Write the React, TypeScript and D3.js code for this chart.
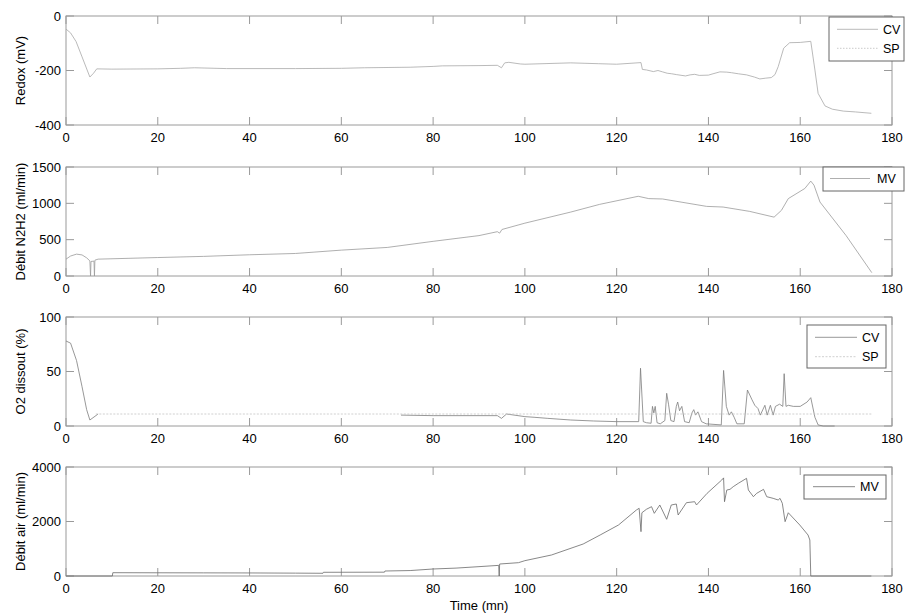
import React from "react";
import * as d3 from "d3";

// ---------- data ----------
const xTicks = [0, 20, 40, 60, 80, 100, 120, 140, 160, 180];

const redoxCV: [number, number][] = [
  [0, -48], [1, -62], [2.2, -94], [3.5, -150], [5.2, -224], [6, -210], [6.7, -194], [10, -195],
  [20, -194], [25, -192], [28, -190], [35, -193], [50, -193], [60, -192], [65, -190], [75, -188],
  [80, -185], [82, -183], [90, -182], [94, -181], [94.9, -190], [95.6, -172], [96.5, -170],
  [99, -176], [100, -177], [110, -172], [116, -175], [120, -177], [125.3, -171], [125.6, -196],
  [126.5, -198], [128, -204], [129, -200], [130, -205], [131, -210], [132, -212], [133, -215],
  [135, -220], [136, -216], [137, -214], [138, -218], [140, -217], [141, -212], [142.5, -205],
  [144, -206], [145, -208], [146.5, -212], [148.3, -216], [150, -224], [151.2, -231],
  [152.5, -228], [153.7, -226], [154.5, -215], [155.2, -186], [156.4, -118], [157.7, -98],
  [160, -97], [162.3, -93], [163.2, -198], [163.9, -284], [165.4, -330], [167, -342],
  [169.4, -349], [172, -352], [175.5, -357],
];
const redoxSP: [number, number][] = [];

const n2h2MV: [number, number][] = [
  [0, 232], [1, 275], [2.3, 301], [3.5, 290], [4.5, 250], [5.2, 208], [5.35, 0], [5.45, 200],
  [6.1, 205], [6.2, 0], [6.3, 218], [7, 232], [20, 254], [30, 270], [40, 292], [50, 310],
  [60, 356], [70, 393], [80, 477], [90, 556], [94, 610], [94.5, 590], [95, 640], [100, 727],
  [110, 880], [116.3, 986], [124.7, 1097], [127, 1065], [130, 1060], [139.6, 958], [143.2, 949],
  [149, 889], [154.3, 810], [155.9, 903], [157.4, 1065], [161, 1204], [162.3, 1306], [163, 1250],
  [164.3, 1018], [170, 556], [175.6, 46],
];

const o2CV: [number, number][] = [
  [0, 78], [1, 76], [2.3, 60], [3.5, 36], [4.5, 15], [5.2, 5.5], [7, 11], [7.1, NaN],
  [73, 10], [80, 9.5], [90, 9.5], [94, 9.5], [94.9, 7], [96, 11], [100, 8.6], [102, 8],
  [105, 7], [110, 5.5], [115, 4.6], [120, 4], [124.8, 4], [125.2, 53], [125.8, 4], [126.5, 3],
  [127.5, 2.5], [127.8, 18], [128.1, 12], [128.4, 18], [128.8, 3], [129.5, 2], [130.5, 5],
  [130.9, 30], [131.3, 20], [131.8, 5], [132.5, 4], [133.0, 18], [133.3, 22], [133.7, 14],
  [134.2, 18], [134.8, 4], [135.8, 3], [136.4, 12], [136.8, 15], [137.2, 10], [137.7, 13],
  [138.5, 4], [139.5, 2], [142.8, 1], [143.3, 51], [143.9, 18], [144.5, 10], [145, 13],
  [145.6, 8], [146.2, 2], [147.8, 2], [148.5, 33], [149.5, 24], [150.1, 19], [150.8, 16],
  [151.3, 10], [152.3, 19], [152.8, 10], [153.5, 19], [154.1, 10], [154.6, 18], [155.5, 20],
  [156.2, 18], [156.5, 48], [156.9, 18], [157.4, 19], [158.5, 18], [160, 18], [161.5, 22],
  [162.3, 26], [163.2, 8], [163.9, 1], [165, 0], [167.5, 0],
];
const o2SP: [number, number][] = [[6.5, 11], [175.5, 11]];

const airMV: [number, number][] = [
  [0, 0], [10.1, 0], [10.2, 121], [20, 118], [30, 115], [40, 112], [50, 105], [56, 100],
  [56.1, 136], [69.4, 140], [69.5, 183], [75, 200], [80, 257], [85, 290], [90, 343], [94.3, 390],
  [94.4, 0], [94.5, 440], [98.6, 489], [100, 563], [105.8, 771], [112.7, 1174], [116.4, 1505],
  [120.4, 1872], [124.3, 2422], [124.9, 2484], [125.3, 1627], [125.5, 2321], [126.5, 2450],
  [127.6, 2544], [128.2, 2300], [129.4, 2606], [130.9, 2080], [131.9, 2606], [133, 2642],
  [133.4, 2239], [135.2, 2690], [137, 2727], [137.4, 2606], [139.7, 3033], [142.9, 3523],
  [143.3, 3600], [143.5, 2727], [144, 3156], [144.7, 3180], [145.4, 3278], [146.5, 3400],
  [148.3, 3584], [148.7, 3156], [149.8, 2910], [150.5, 3033], [152, 3180], [152.7, 2910],
  [154.1, 2850], [155.2, 2789], [155.6, 2850], [156.1, 2667], [156.7, 1994], [157.4, 2321],
  [159.9, 1872], [161.7, 1505], [162.1, 1321], [162.3, 0], [175.5, 0],
];

const yLabels = ["Redox (mV)", "Débit N2H2 (ml/min)", "O2 dissout (%)", "Débit air (ml/min)"];
const yDomains: [number, number][] = [[-400, 0], [0, 1500], [0, 100], [0, 4000]];
const yTicks = [[-400, -200, 0], [0, 500, 1000, 1500], [0, 50, 100], [0, 2000, 4000]];

// ---------- layout ----------
const W = 905, H = 614;
const X0 = 66, X1 = 892;
const tops = [16, 167, 317, 467];
const PH = 109;
const TL = 8;
const FS = 13;
const FONT = "'Liberation Sans', Arial, Helvetica, sans-serif";

type Series = { name: string; data: [number, number][]; color: string; dash?: string };
const panelSeries: Series[][] = [
  [{ name: "CV", data: redoxCV, color: "#a8a8a8" }, { name: "SP", data: redoxSP, color: "#bdbdbd", dash: "1.5,1.5" }],
  [{ name: "MV", data: n2h2MV, color: "#9a9a9a" }],
  [{ name: "CV", data: o2CV, color: "#7d7d7d" }, { name: "SP", data: o2SP, color: "#c4c4c4", dash: "2,1.5" }],
  [{ name: "MV", data: airMV, color: "#6a6a6a" }],
];
const legends = [
  { x: 829, y: 17, w: 75, h: 44, lx0: 837, lx1: 878, tx: 883, rows: [29.3, 48.3] },
  { x: 823, y: 167, w: 81, h: 24, lx0: 830, lx1: 870, tx: 877, rows: [178.5] },
  { x: 807, y: 325, w: 79, h: 43, lx0: 815, lx1: 857, tx: 862, rows: [337.3, 356.7] },
  { x: 804, y: 475, w: 82, h: 24, lx0: 813, lx1: 855, tx: 860, rows: [486.7] },
];

export default function App() {
  const x = d3.scaleLinear().domain([0, 180]).range([X0, X1]);
  return (
    <svg width={W} height={H} style={{ position: "absolute", left: 0, top: 0, background: "#fff" }}
      fontFamily={FONT}>
      <rect x={0} y={0} width={W} height={H} fill="#fff" />
      {tops.map((top, i) => {
        const bottom = top + PH;
        const y = d3.scaleLinear().domain(yDomains[i]).range([bottom, top]);
        const line = d3.line<[number, number]>()
          .defined((d) => !isNaN(d[1]))
          .x((d) => x(d[0]))
          .y((d) => y(d[1]));
        const lg = legends[i];
        return (
          <g key={i}>
            <defs>
              <clipPath id={`clip${i}`}>
                <rect x={X0} y={top - 1} width={X1 - X0} height={PH + 2} />
              </clipPath>
            </defs>
            <rect x={X0} y={top} width={X1 - X0} height={PH} fill="#fff" stroke="#9a9a9a" strokeWidth={1} />
            {xTicks.map((t) => (
              <g key={"x" + t}>
                <line x1={x(t)} x2={x(t)} y1={bottom} y2={bottom - TL} stroke="#9a9a9a" />
                <line x1={x(t)} x2={x(t)} y1={top} y2={top + TL} stroke="#9a9a9a" />
                <text x={x(t)} y={bottom + 16.5} fontSize={FS} textAnchor="middle" fill="#000">{t}</text>
              </g>
            ))}
            {yTicks[i].map((t) => (
              <g key={"y" + t}>
                <line x1={X0} x2={X0 + TL} y1={y(t)} y2={y(t)} stroke="#9a9a9a" />
                <line x1={X1} x2={X1 - TL} y1={y(t)} y2={y(t)} stroke="#9a9a9a" />
                <text x={61} y={y(t)} dy="0.35em" fontSize={FS} textAnchor="end" fill="#000">{t}</text>
              </g>
            ))}
            <text transform={`translate(20,${(top + bottom) / 2}) rotate(-90)`} dy="0.35em"
              fontSize={FS} textAnchor="middle" fill="#000">{yLabels[i]}</text>
            <g clipPath={`url(#clip${i})`}>
              {panelSeries[i].map((s, k) => (
                s.data.length > 1 ? (
                  <path key={k} d={line(s.data) || ""} fill="none" stroke={s.color}
                    strokeWidth={0.8} strokeDasharray={s.dash} />
                ) : null
              ))}
            </g>
            <rect x={lg.x} y={lg.y} width={lg.w} height={lg.h} fill="#fff" stroke="#666" strokeWidth={1} />
            {panelSeries[i].map((s, k) => (
              <g key={"l" + k}>
                <line x1={lg.lx0} x2={lg.lx1} y1={lg.rows[k]} y2={lg.rows[k]} stroke={s.color}
                  strokeWidth={0.8} strokeDasharray={s.dash} />
                <text x={lg.tx} y={lg.rows[k]} dy="0.35em" fontSize={12.5} fill="#000">{s.name}</text>
              </g>
            ))}
          </g>
        );
      })}
      <text x={(X0 + X1) / 2} y={609.5} fontSize={FS} textAnchor="middle" fill="#000">Time (mn)</text>
    </svg>
  );
}
